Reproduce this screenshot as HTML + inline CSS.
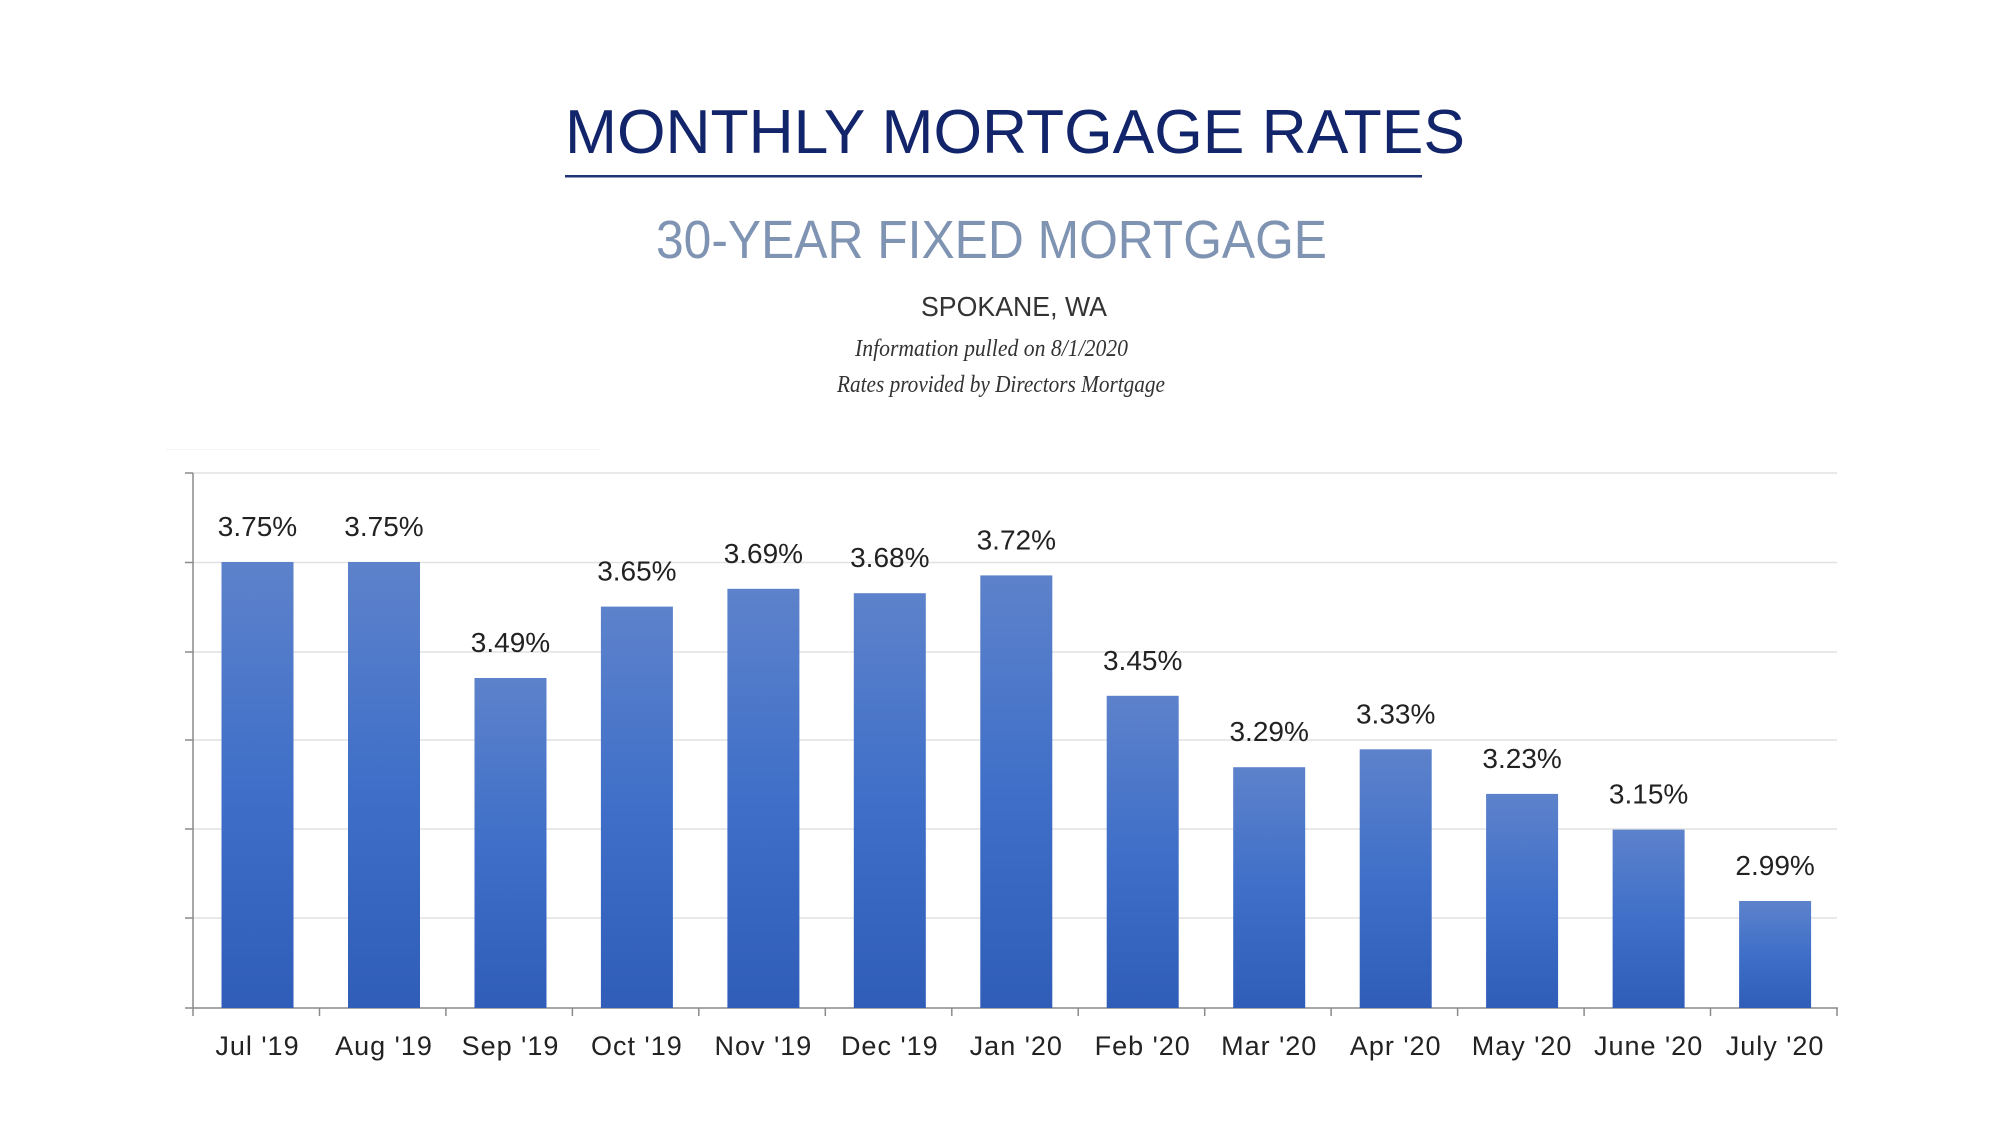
<!DOCTYPE html>
<html><head><meta charset="utf-8"><style>html,body{margin:0;padding:0;background:#fff}svg{display:block}</style></head>
<body>
<svg width="2000" height="1142" viewBox="0 0 2000 1142" xmlns="http://www.w3.org/2000/svg">
<defs>
<linearGradient id="g" x1="0" y1="0" x2="0" y2="1">
<stop offset="0" stop-color="#5d82cb"/><stop offset="0.5" stop-color="#3f6fc8"/><stop offset="1" stop-color="#2f5db8"/>
</linearGradient>
</defs>
<text x="565" y="153" textLength="900" lengthAdjust="spacingAndGlyphs" font-family="Liberation Sans, sans-serif" font-size="62" fill="#12246a">MONTHLY MORTGAGE RATES</text>
<rect x="565" y="175" width="857" height="2.5" fill="#1f3375"/>
<text x="656" y="258" textLength="671" lengthAdjust="spacingAndGlyphs" font-family="Liberation Sans, sans-serif" font-size="54" fill="#7f93b3">30-YEAR FIXED MORTGAGE</text>
<text x="921" y="316" textLength="186" lengthAdjust="spacingAndGlyphs" font-family="Liberation Sans, sans-serif" font-size="28" fill="#333">SPOKANE, WA</text>
<text x="855" y="356" textLength="273" lengthAdjust="spacingAndGlyphs" font-family="Liberation Serif, serif" font-style="italic" font-size="24" fill="#333">Information pulled on 8/1/2020</text>
<text x="837" y="392" textLength="328" lengthAdjust="spacingAndGlyphs" font-family="Liberation Serif, serif" font-style="italic" font-size="24" fill="#333">Rates provided by Directors Mortgage</text>
<rect x="166" y="449" width="434" height="1" fill="#f4f4f4"/>
<g stroke="#e2e2e2" stroke-width="1.5">
<line x1="193" y1="473" x2="1837" y2="473"/><line x1="193" y1="562.5" x2="1837" y2="562.5"/><line x1="193" y1="652" x2="1837" y2="652"/><line x1="193" y1="740" x2="1837" y2="740"/><line x1="193" y1="829" x2="1837" y2="829"/><line x1="193" y1="918" x2="1837" y2="918"/>
</g>
<g stroke="#8a8a8a" stroke-width="1.5">
<line x1="193" y1="473" x2="193" y2="1008"/><line x1="193" y1="1008" x2="1838" y2="1008"/>
<line x1="185" y1="473" x2="193" y2="473"/><line x1="185" y1="562.5" x2="193" y2="562.5"/><line x1="185" y1="652" x2="193" y2="652"/><line x1="185" y1="740" x2="193" y2="740"/><line x1="185" y1="829" x2="193" y2="829"/><line x1="185" y1="918" x2="193" y2="918"/><line x1="185" y1="1008" x2="193" y2="1008"/>
<line x1="193" y1="1008" x2="193" y2="1016"/><line x1="319.5" y1="1008" x2="319.5" y2="1016"/><line x1="445.9" y1="1008" x2="445.9" y2="1016"/><line x1="572.4" y1="1008" x2="572.4" y2="1016"/><line x1="698.8" y1="1008" x2="698.8" y2="1016"/><line x1="825.3" y1="1008" x2="825.3" y2="1016"/><line x1="951.8" y1="1008" x2="951.8" y2="1016"/><line x1="1078.2" y1="1008" x2="1078.2" y2="1016"/><line x1="1204.7" y1="1008" x2="1204.7" y2="1016"/><line x1="1331.1" y1="1008" x2="1331.1" y2="1016"/><line x1="1457.6" y1="1008" x2="1457.6" y2="1016"/><line x1="1584.1" y1="1008" x2="1584.1" y2="1016"/><line x1="1710.5" y1="1008" x2="1710.5" y2="1016"/><line x1="1837" y1="1008" x2="1837" y2="1016"/>
</g>
<g fill="url(#g)">
<rect x="221.5" y="562" width="72" height="446"/>
<rect x="348" y="562" width="72" height="446"/>
<rect x="474.5" y="678" width="72" height="330"/>
<rect x="600.9" y="606.6" width="72" height="401.4"/>
<rect x="727.4" y="588.8" width="72" height="419.2"/>
<rect x="853.8" y="593.2" width="72" height="414.8"/>
<rect x="980.3" y="575.4" width="72" height="432.6"/>
<rect x="1106.7" y="695.8" width="72" height="312.2"/>
<rect x="1233.2" y="767.2" width="72" height="240.8"/>
<rect x="1359.7" y="749.3" width="72" height="258.7"/>
<rect x="1486.1" y="793.9" width="72" height="214.1"/>
<rect x="1612.6" y="829.6" width="72" height="178.4"/>
<rect x="1739.1" y="901" width="72" height="107"/>
</g>
<g font-family="Liberation Sans, sans-serif" font-size="28" fill="#222" text-anchor="middle">
<text x="257.5" y="536">3.75%</text>
<text x="384" y="536">3.75%</text>
<text x="510.5" y="652">3.49%</text>
<text x="636.9" y="580.6">3.65%</text>
<text x="763.4" y="562.8">3.69%</text>
<text x="889.8" y="567.2">3.68%</text>
<text x="1016.3" y="549.4">3.72%</text>
<text x="1142.7" y="669.8">3.45%</text>
<text x="1269.2" y="741.2">3.29%</text>
<text x="1395.7" y="723.3">3.33%</text>
<text x="1522.1" y="767.9">3.23%</text>
<text x="1648.6" y="803.6">3.15%</text>
<text x="1775.1" y="875">2.99%</text>
</g>
<g font-family="Liberation Sans, sans-serif" font-size="27" fill="#222" text-anchor="middle" letter-spacing="1">
<text x="257.5" y="1055">Jul '19</text>
<text x="384" y="1055">Aug '19</text>
<text x="510.5" y="1055">Sep '19</text>
<text x="636.9" y="1055">Oct '19</text>
<text x="763.4" y="1055">Nov '19</text>
<text x="889.8" y="1055">Dec '19</text>
<text x="1016.3" y="1055">Jan '20</text>
<text x="1142.7" y="1055">Feb '20</text>
<text x="1269.2" y="1055">Mar '20</text>
<text x="1395.7" y="1055">Apr '20</text>
<text x="1522.1" y="1055">May '20</text>
<text x="1648.6" y="1055">June '20</text>
<text x="1775.1" y="1055">July '20</text>
</g>
</svg>
</body></html>
